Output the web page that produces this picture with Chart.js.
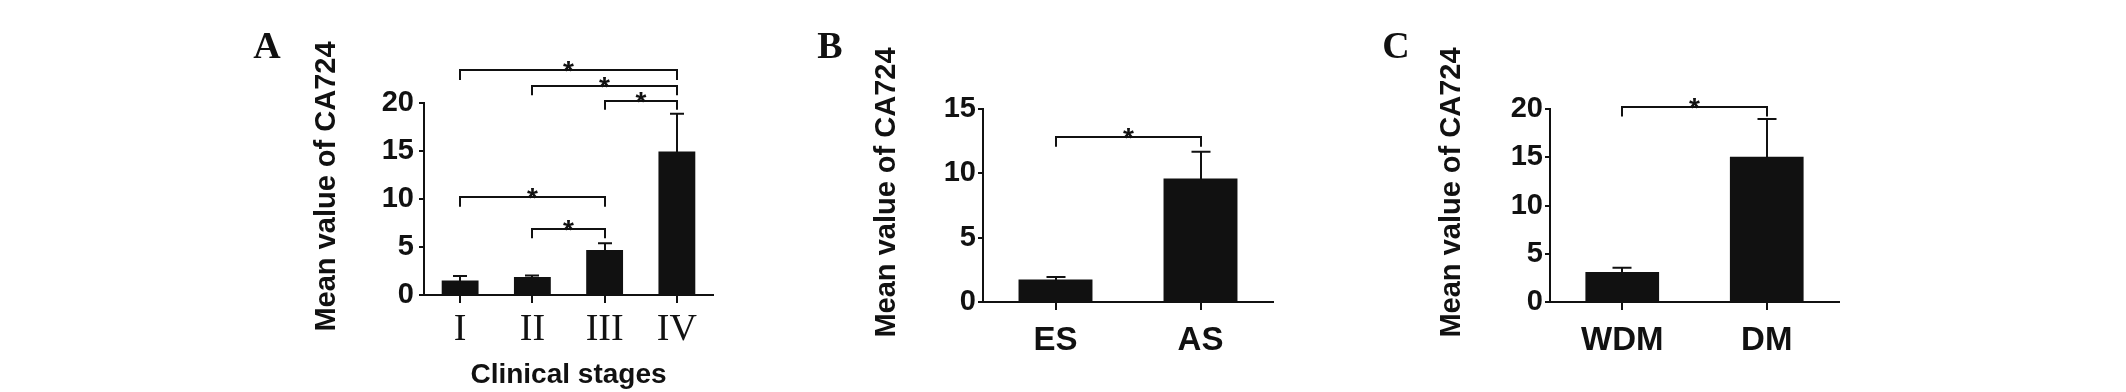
<!DOCTYPE html>
<html><head><meta charset="utf-8">
<script src="https://cdn.jsdelivr.net/npm/chart.js@4.4.1/dist/chart.umd.min.js"></script>
<style>
html,body{margin:0;padding:0;background:#fff;width:2126px;height:392px;overflow:hidden;}
canvas{position:absolute;top:0;}
</style></head><body>
<canvas id="cA" width="520" height="392" style="left:230px"></canvas>
<canvas id="cB" width="500" height="392" style="left:800px"></canvas>
<canvas id="cC" width="560" height="392" style="left:1350px"></canvas>
<script>
// ---------- Data ----------
const yTitle = 'Mean value of CA724';

// Panel A: clinical stages
const stageLabels = ['I', 'II', 'III', 'IV'];
const stageMeans = [1.50, 1.88, 4.70, 14.96];
const stageErrors = [0.48, 0.14, 0.69, 3.93];
const stageTicks = [0, 5, 10, 15, 20];
// [fromIndex, toIndex, bracketLineValue, legEndValue]
const stageBrackets = [[0, 3, 23.4, 22.4], [1, 3, 21.8, 20.8], [2, 3, 20.2, 19.3], [0, 2, 10.2, 9.2], [1, 2, 6.9, 5.9]];

// Panel B: ES vs AS
const esLabels = ['ES', 'AS'];
const esMeans = [1.74, 9.60];
const esErrors = [0.21, 2.08];
const esTicks = [0, 5, 10, 15];
const esBrackets = [[0, 1, 12.8, 12.07]];

// Panel C: WDM vs DM
const dmLabels = ['WDM', 'DM'];
const dmMeans = [3.11, 15.05];
const dmErrors = [0.45, 3.91];
const dmTicks = [0, 5, 10, 15, 20];
const dmBrackets = [[0, 1, 20.24, 19.21]];

// ---------- Drawing ----------
const INK = '#111111';
const SANS = "'Liberation Sans', Arial, sans-serif";
const SERIF = "'Liberation Serif', 'Times New Roman', serif";

const annotPlugin = {
  id: 'annot',
  afterDraw(chart, args, o) {
    const ctx = chart.ctx, xs = chart.scales.x, ys = chart.scales.y;
    ctx.save();
    ctx.strokeStyle = INK; ctx.fillStyle = INK; ctx.lineWidth = 2; ctx.lineCap = 'butt';
    const meta = chart.getDatasetMeta(0);
    const vals = chart.data.datasets[0].data;
    meta.data.forEach((bar, i) => {
      const yTop = ys.getPixelForValue(vals[i] + o.errors[i]);
      const x = Math.round(bar.x);
      ctx.beginPath();
      ctx.moveTo(x, bar.y + 1); ctx.lineTo(x, yTop);
      ctx.moveTo(x - o.cap, yTop); ctx.lineTo(x + o.cap, yTop);
      ctx.stroke();
    });
    ctx.font = 'bold 28px ' + SANS; ctx.textAlign = 'center'; ctx.textBaseline = 'alphabetic';
    o.brackets.forEach(([a, b, lv, gv]) => {
      const x1 = Math.round(xs.getPixelForValue(a)), x2 = Math.round(xs.getPixelForValue(b));
      const yl = Math.round(ys.getPixelForValue(lv)), yg = ys.getPixelForValue(gv);
      ctx.beginPath(); ctx.moveTo(x1, yg); ctx.lineTo(x1, yl); ctx.lineTo(x2, yl); ctx.lineTo(x2, yg); ctx.stroke();
      ctx.fillText('*', (x1 + x2) / 2, yl + 10);
    });
    ctx.font = 'bold 38px ' + SERIF;
    ctx.fillText(o.letter, o.letterX, 58);
    ctx.translate(o.titleX, o.titleY); ctx.rotate(-Math.PI / 2);
    ctx.font = 'bold 29px ' + SANS;
    ctx.fillText(yTitle, 0, 0);
    ctx.restore();
  }
};

function makeChart(id, labels, means, errors, ticksArr, brackets, cfg) {
  return new Chart(document.getElementById(id), {
    type: 'bar',
    data: { labels: labels, datasets: [{ data: means, backgroundColor: INK, borderWidth: 0, barPercentage: 0.51, categoryPercentage: 1 }] },
    plugins: [annotPlugin],
    options: {
      responsive: false, animation: false, devicePixelRatio: 1,
      layout: { padding: { left: cfg.pl, right: cfg.pr, top: cfg.pt, bottom: 0 } },
      plugins: {
        legend: { display: false }, tooltip: { enabled: false },
        annot: { errors: errors, brackets: brackets, cap: cfg.cap, letter: cfg.letter, letterX: cfg.letterX, titleX: cfg.titleX, titleY: cfg.titleY }
      },
      scales: {
        x: {
          offset: true,
          grid: { display: true, drawOnChartArea: false, drawTicks: true, tickLength: 8, offset: false, color: INK, lineWidth: 2 },
          border: { display: true, color: INK, width: 2 },
          ticks: { color: INK, font: cfg.xFont, padding: cfg.xPad, maxRotation: 0, autoSkip: false },
          title: { display: !!cfg.xTitle, text: cfg.xTitle || '', color: INK, font: { family: SANS, weight: 'bold', size: 28 }, padding: { top: 0, bottom: 0 } },
          afterFit(s) { s.height = cfg.xH; }
        },
        y: {
          min: 0, max: ticksArr[ticksArr.length - 1],
          grid: { display: true, drawOnChartArea: false, drawTicks: true, tickLength: 5, color: INK, lineWidth: 2 },
          border: { display: true, color: INK, width: 2 },
          ticks: { color: INK, font: { family: SANS, weight: 'bold', size: 29 }, padding: cfg.yPad },
          afterBuildTicks(s) { s.ticks = ticksArr.map(v => ({ value: v })); },
          afterFit(s) { s.width = 100; }
        }
      }
    }
  });
}

makeChart('cA', stageLabels, stageMeans, stageErrors, stageTicks, stageBrackets, {
  pl: 94, pr: 37, pt: 103, xH: 97, cap: 7, letter: 'A', letterX: 37, titleX: 105, titleY: 186.5,
  xFont: { family: SERIF, size: 38 }, xPad: 4, xTitle: 'Clinical stages', yPad: 5
});
makeChart('cB', esLabels, esMeans, esErrors, esTicks, esBrackets, {
  pl: 83, pr: 27, pt: 109, xH: 90, cap: 9.5, letter: 'B', letterX: 30, titleX: 95, titleY: 192.5,
  xFont: { family: SANS, weight: 'bold', size: 33 }, xPad: 11, yPad: 2
});
makeChart('cC', dmLabels, dmMeans, dmErrors, dmTicks, dmBrackets, {
  pl: 100, pr: 71, pt: 109, xH: 90, cap: 9.5, letter: 'C', letterX: 46, titleX: 110, titleY: 192.5,
  xFont: { family: SANS, weight: 'bold', size: 33 }, xPad: 11, yPad: 2
});
</script>
</body></html>
